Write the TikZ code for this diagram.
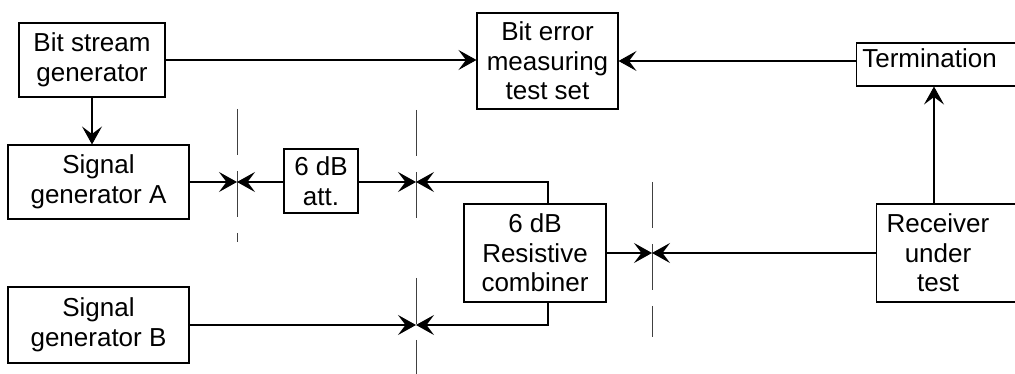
\documentclass[tikz,border=0pt]{standalone}
\usepackage{fontspec}
\setmainfont{Liberation Sans}
\usetikzlibrary{arrows.meta}

\begin{document}
\begin{tikzpicture}[x=0.02cm, y=-0.02cm, font=\fontsize{14.8}{16.8}\selectfont,
  blk/.style={draw, line width=0.6pt, align=center, inner sep=0pt},
  arr/.style={line width=0.6pt, -{Stealth[length=0.36cm, width=0.4cm, inset=0.15cm]}},
  refline/.style={line width=0.5pt, black!75, dash pattern=on 0.92cm off 0.32cm}]

\useasboundingbox (0,0) rectangle (1015,374);
\clip (0,0) rectangle (1015,374);

% === TOP ROW ===
\node[blk, minimum width=2.92cm, minimum height=1.48cm] (bsg) at (92,60) {Bit stream\\generator};
\node[blk, minimum width=2.82cm, minimum height=1.92cm] (ber) at (547.5,61) {Bit error\\measuring\\test set};
\node[blk, anchor=west, minimum width=4.08cm, minimum height=0.86cm,
  label={[xshift=-0.58cm, yshift=0.12cm]center:Termination}] (term) at (856,64.5) {};

% === SIGNAL PATH ===
\node[blk, minimum width=3.62cm, minimum height=1.48cm] (sga) at (98.5,182) {Signal\\generator A};
\node[blk, minimum width=1.48cm, minimum height=1.28cm] (att) at (321,181) {6 dB\\att.};
\node[blk, minimum width=2.84cm, minimum height=1.96cm] (cmb) at (535,253) {6 dB\\Resistive\\combiner};
\node[blk, minimum width=3.62cm, minimum height=1.52cm] (sgb) at (98.5,325) {Signal\\generator B};
\node[blk, anchor=west, minimum width=3.68cm, minimum height=1.96cm,
  label={[align=center, xshift=-0.61cm]center:Receiver\\under\\test}] (rcv) at (876,253) {};

% reference planes
\coordinate (p1) at (237,182);
\coordinate (p2) at (416,182);
\coordinate (p3) at (416,325);
\coordinate (p4) at (652,253);
\coordinate (tap) at (934,0);
\coordinate (ctap) at (548,0);

\draw[refline] (237,109) -- (237,242);
\draw[refline] (416,110) -- (416,218);
\draw[refline] (416,278) -- (416,374);
\draw[refline] (652,182) -- (652,337);

% === CONNECTIONS ===
\draw[arr] (bsg.east) -- (bsg.east -| ber.west);
\draw[arr] (ber.east -| term.west) -- (ber.east);
\draw[arr] (bsg.south) -- (bsg.south |- sga.north);
\draw[arr] (tap |- rcv.north) -- (tap |- term.south);

\draw[arr] (sga.east |- p1) -- (p1);
\draw[arr] (att.west |- p1) -- (p1);
\draw[arr] (att.east |- p2) -- (p2);
\draw[arr] (ctap |- cmb.north) |- (p2);
\draw[arr] (ctap |- cmb.south) |- (p3);
\draw[arr] (sgb.east |- p3) -- (p3);
\draw[arr] (cmb.east |- p4) -- (p4);
\draw[arr] (rcv.west |- p4) -- (p4);

\end{tikzpicture}
\end{document}
